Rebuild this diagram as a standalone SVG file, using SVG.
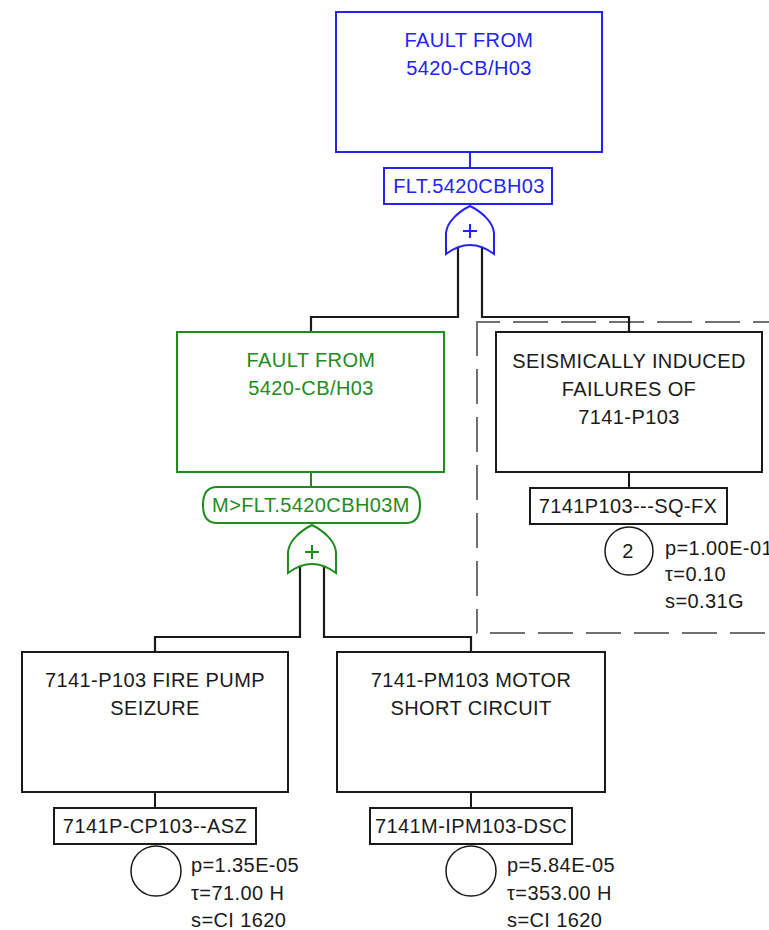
<svg xmlns="http://www.w3.org/2000/svg" width="769" height="930" viewBox="0 0 769 930">
<style>
text{font-family:"Liberation Sans",Arial,sans-serif;font-size:20px;text-anchor:middle;letter-spacing:0.4px}
.blue{fill:none;stroke:#2323f5;stroke-width:2}
.green{fill:none;stroke:#1e8c1e;stroke-width:2}
.blk{fill:none;stroke:#1a1a1a;stroke-width:2}
.tb{fill:#2323f5}
.tg{fill:#1e8c1e}
.tk{fill:#1a1a1a}
.prob{text-anchor:start}
.circ{fill:none;stroke:#1a1a1a;stroke-width:1.5}
.wire{fill:none;stroke:#1a1a1a;stroke-width:2.2}
.dash{fill:none;stroke:#707070;stroke-width:2;stroke-dasharray:35 13}
</style>
<g id="transfer-box">
<line class="dash" x1="476" y1="322" x2="780" y2="322" stroke-dashoffset="11"/>
<line class="dash" x1="477" y1="321" x2="477" y2="633" stroke-dashoffset="0"/>
<line class="dash" x1="476" y1="633" x2="780" y2="633" stroke-dashoffset="-14"/>
</g>
<g id="connectors">
<line x1="470" y1="152" x2="470" y2="168" stroke="#2323f5" stroke-width="2"/>
<line x1="311" y1="472" x2="311" y2="487" stroke="#1e8c1e" stroke-width="2"/>
<path class="wire" d="M458,248 V317 H311 V332"/>
<path class="wire" d="M482,248 V317 H629 V332"/>
<path class="wire" d="M300,567 V637 H155 V652"/>
<path class="wire" d="M324,567 V637 H471 V652"/>
<line class="blk" x1="629" y1="472" x2="629" y2="488"/>
<line class="blk" x1="155" y1="792" x2="155" y2="808"/>
<line class="blk" x1="471" y1="792" x2="471" y2="808"/>
</g>
<g id="top-event">
<rect class="blue" x="336" y="12" width="266" height="140"/>
<text class="tb" x="469" y="47">FAULT FROM</text>
<text class="tb" x="469" y="75">5420-CB/H03</text>
<rect class="blue" x="384" y="168" width="168" height="36"/>
<text class="tb" x="469" y="193">FLT.5420CBH03</text>
<path class="blue" d="M470,206 C458,212 447,222 446,233 L446,254 Q470,236 494,254 L494,233 C493,222 482,212 470,206 Z"/>
<path d="M470,224 V238 M463,231 H477" stroke="#2323f5" stroke-width="2"/>
</g>
<g id="module-event">
<rect class="green" x="177" y="332" width="267" height="140"/>
<text class="tg" x="311" y="367">FAULT FROM</text>
<text class="tg" x="311" y="395">5420-CB/H03</text>
<path class="green" d="M217,487 H406 Q420,487 420,505 Q420,523 406,523 H217 Q203,523 203,505 Q203,487 217,487 Z"/>
<text class="tg" x="311" y="512">M&gt;FLT.5420CBH03M</text>
<path class="green" d="M312,525 C300,531 289,541 288,552 L288,573 Q312,555 336,573 L336,552 C335,541 324,531 312,525 Z"/>
<path d="M312,545 V559 M305,552 H319" stroke="#1e8c1e" stroke-width="2"/>
</g>
<g id="seismic-event">
<rect class="blk" x="496" y="332" width="266" height="140"/>
<text class="tk" x="629" y="368">SEISMICALLY INDUCED</text>
<text class="tk" x="629" y="396">FAILURES OF</text>
<text class="tk" x="629" y="424">7141-P103</text>
<rect class="blk" x="530" y="488" width="197" height="36"/>
<text class="tk" x="628" y="513">7141P103---SQ-FX</text>
<circle class="circ" cx="629" cy="551" r="24"/>
<text class="tk" x="628" y="558">2</text>
<text class="tk prob" x="665" y="555">p=1.00E-01</text>
<text class="tk prob" x="665" y="581">τ=0.10</text>
<text class="tk prob" x="665" y="608">s=0.31G</text>
</g>
<g id="pump-seizure">
<rect class="blk" x="22" y="652" width="266" height="140"/>
<text class="tk" x="155" y="687">7141-P103 FIRE PUMP</text>
<text class="tk" x="155" y="715">SEIZURE</text>
<rect class="blk" x="54" y="808" width="202" height="36"/>
<text class="tk" x="155" y="833">7141P-CP103--ASZ</text>
<circle class="circ" cx="156" cy="871" r="25"/>
<text class="tk prob" x="191" y="872">p=1.35E-05</text>
<text class="tk prob" x="191" y="900">τ=71.00 H</text>
<text class="tk prob" x="191" y="927">s=CI 1620</text>
</g>
<g id="motor-short">
<rect class="blk" x="337" y="652" width="268" height="140"/>
<text class="tk" x="471" y="687">7141-PM103 MOTOR</text>
<text class="tk" x="471" y="715">SHORT CIRCUIT</text>
<rect class="blk" x="370" y="808" width="202" height="36"/>
<text class="tk" x="471" y="833">7141M-IPM103-DSC</text>
<circle class="circ" cx="471" cy="871" r="25"/>
<text class="tk prob" x="507" y="872">p=5.84E-05</text>
<text class="tk prob" x="507" y="900">τ=353.00 H</text>
<text class="tk prob" x="507" y="927">s=CI 1620</text>
</g>
</svg>
